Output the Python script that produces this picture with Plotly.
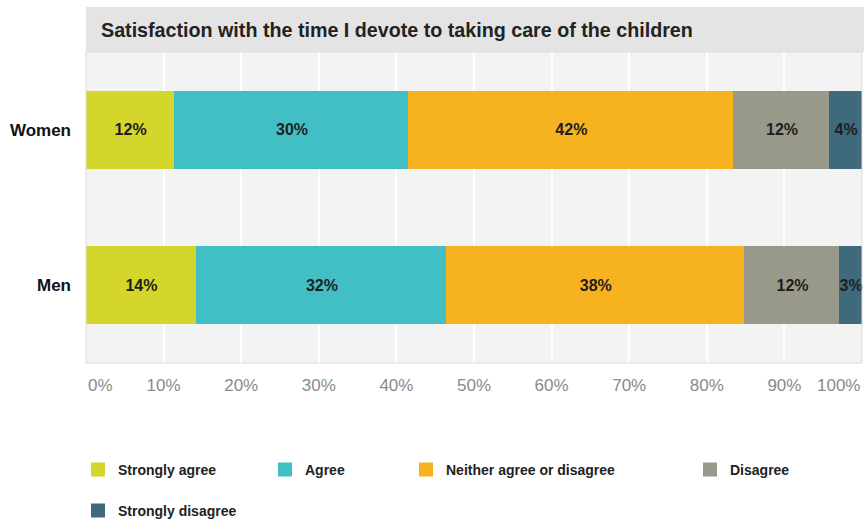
import plotly.graph_objects as go

# ---- data ----
groups = ["Women", "Men"]
series_names = ["Strongly agree", "Agree", "Neither agree or disagree", "Disagree", "Strongly disagree"]
strongly_agree = [11.5, 14.3]
agree = [30.1, 32.2]
neither = [41.9, 38.4]
disagree = [12.4, 12.3]
strongly_disagree = [4.1, 2.8]
tick_values = [0, 10, 20, 30, 40, 50, 60, 70, 80, 90, 100]
tick_labels = ["0%", "10%", "20%", "30%", "40%", "50%", "60%", "70%", "80%", "90%", "100%"]
title_text = "Satisfaction with the time I devote to taking care of the children"

series_values = [strongly_agree, agree, neither, disagree, strongly_disagree]
colors = ["#d4d62b", "#42bfc4", "#f7b21f", "#99998b", "#3e6a7c"]
legend_ids = ["legend", "legend", "legend", "legend", "legend2"]
legend_widths = [142, 96, 239, 80, 150]

FONT = "Liberation Sans, Arial, sans-serif"

fig = go.Figure()
for name, vals, col, lg, lw in zip(series_names, series_values, colors, legend_ids, legend_widths):
    fig.add_trace(go.Bar(
        y=groups, x=vals, name=name, orientation="h",
        marker=dict(color=col, line=dict(color=col, width=2)),
        texttemplate="%{x:.0f}%", textposition="inside", insidetextanchor="middle",
        textangle=0, constraintext="none", cliponaxis=False,
        insidetextfont=dict(family=FONT, size=16, color="#1e1e1e", weight="bold"),
        legend=lg, legendwidth=lw,
    ))

W, H = 864, 521
ml, mr, mt, mb = 86, 2, 52, 158
ph = H - mt - mb

fig.update_layout(
    width=W, height=H,
    margin=dict(l=ml, r=mr, t=mt, b=mb, autoexpand=False),
    barmode="stack", bargap=0.51,
    paper_bgcolor="white", plot_bgcolor="#f3f3f3",
    font=dict(family=FONT),
    xaxis=dict(range=[0, 100], tickvals=tick_values[1:-1], ticktext=tick_labels[1:-1],
               showgrid=True, gridcolor="white", gridwidth=1.5, zeroline=False,
               showline=False, ticks="", ticklabelstandoff=10,
               tickfont=dict(family=FONT, size=17, color="#8a8a8a"), fixedrange=True,
               automargin=False),
    yaxis=dict(categoryorder="array", categoryarray=groups, autorange="reversed",
               showgrid=False, zeroline=False, ticks="", ticklabelstandoff=14,
               tickfont=dict(family=FONT, size=17, color="#111111", weight="bold"),
               automargin=False),
    legend=dict(orientation="h", x=-0.0103, xanchor="left", y=(mt + ph - 470) / ph,
                yanchor="middle", font=dict(family=FONT, size=14, color="#222222", weight="bold"),
                bgcolor="rgba(0,0,0,0)", traceorder="normal"),
    legend2=dict(orientation="h", x=-0.0103, xanchor="left", y=(mt + ph - 511) / ph,
                 yanchor="middle", font=dict(family=FONT, size=14, color="#222222", weight="bold"),
                 bgcolor="rgba(0,0,0,0)"),
    showlegend=True,
)

# title bar
fig.add_shape(type="rect", xref="paper", yref="paper", x0=0, x1=1.003,
              y0=1, y1=1 + 45 / ph, fillcolor="#e4e4e4", line=dict(width=0), layer="below")
fig.add_annotation(text=title_text, xref="paper", yref="paper", x=0, y=1 + 22 / ph,
                   xanchor="left", yanchor="middle", xshift=13, showarrow=False,
                   font=dict(family=FONT, size=19.7, color="#222222", weight="bold"))
# plot frame
fig.add_shape(type="rect", xref="paper", yref="paper", x0=0, x1=1, y0=0, y1=1,
              line=dict(color="#dcdcdc", width=1), layer="above")

# end tick labels (0% and 100%) kept inside the plot width
fig.add_annotation(text=tick_labels[0], xref="x", yref="paper", x=tick_values[0], y=0,
                   xanchor="left", yanchor="top", yshift=-11, showarrow=False,
                   font=dict(family=FONT, size=17, color="#8a8a8a"))
fig.add_annotation(text=tick_labels[-1], xref="x", yref="paper", x=tick_values[-1], y=0,
                   xanchor="right", yanchor="top", yshift=-11, showarrow=False,
                   font=dict(family=FONT, size=17, color="#8a8a8a"))

fig.write_html("out.html", config={"displayModeBar": False},
               post_script="document.body.style.margin='0';")
